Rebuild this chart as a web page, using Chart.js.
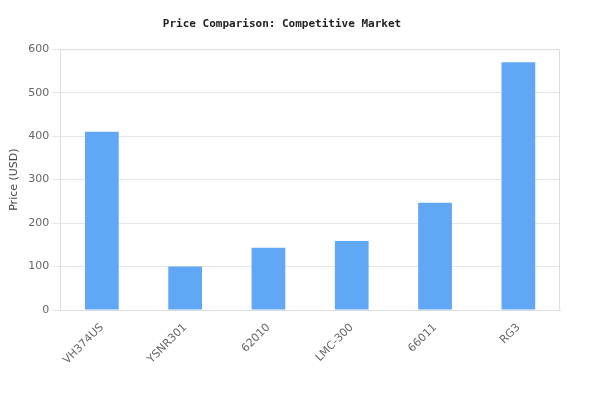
<!DOCTYPE html>
<html>
<head>
<meta charset="utf-8">
<script src="https://cdn.jsdelivr.net/npm/chart.js@4"></script>
<style>
  body { margin: 0; background: #fff; }
  #wrap { width: 600px; height: 420px; }
</style>
</head>
<body>
<div id="wrap"><canvas id="chart"></canvas></div>
<script>
const models = ['VH374US', 'YSNR301', '62010', 'LMC-300', '66011', 'RG3'];
const prices = [410, 100, 143, 159, 247, 570];

new Chart(document.getElementById('chart'), {
  type: 'bar',
  data: {
    labels: models,
    datasets: [{
      label: 'Price (USD)',
      data: prices,
      backgroundColor: '#60a8f5',
      barPercentage: 0.45,
      categoryPercentage: 0.9
    }]
  },
  options: {
    responsive: true,
    maintainAspectRatio: false,
    animation: false,
    layout: { padding: { left: 4, right: 40, top: 8, bottom: 50 } },
    plugins: {
      legend: { display: false },
      tooltip: { enabled: false },
      title: {
        display: true,
        text: 'Price Comparison: Competitive Market',
        color: '#222',
        font: { family: 'DejaVu Sans Mono', size: 11, weight: 'bold' },
        padding: { top: 10, bottom: 18 }
      }
    },
    scales: {
      x: {
        grid: { display: false },
        border: { color: '#ddd' },
        ticks: {
          color: '#666',
          font: { family: 'DejaVu Sans', size: 11 },
          maxRotation: 45,
          minRotation: 45
        }
      },
      y: {
        min: 0,
        max: 600,
        ticks: { stepSize: 100, color: '#666', font: { family: 'DejaVu Sans', size: 11 } },
        grid: { color: '#e6e6e6' },
        border: { color: '#ddd' },
        title: {
          display: true,
          text: 'Price (USD)',
          color: '#444',
          font: { family: 'DejaVu Sans', size: 11 }
        }
      }
    }
  },
  plugins: [{
    id: 'frame',
    afterDraw(chart) {
      const { ctx, chartArea: a } = chart;
      ctx.save();
      ctx.strokeStyle = '#ddd';
      ctx.lineWidth = 1;
      ctx.beginPath();
      ctx.moveTo(a.left, a.top + 0.5);
      ctx.lineTo(a.right - 0.5, a.top + 0.5);
      ctx.lineTo(a.right - 0.5, a.bottom);
      ctx.stroke();
      ctx.restore();
    }
  }]
});
</script>
</body>
</html>
